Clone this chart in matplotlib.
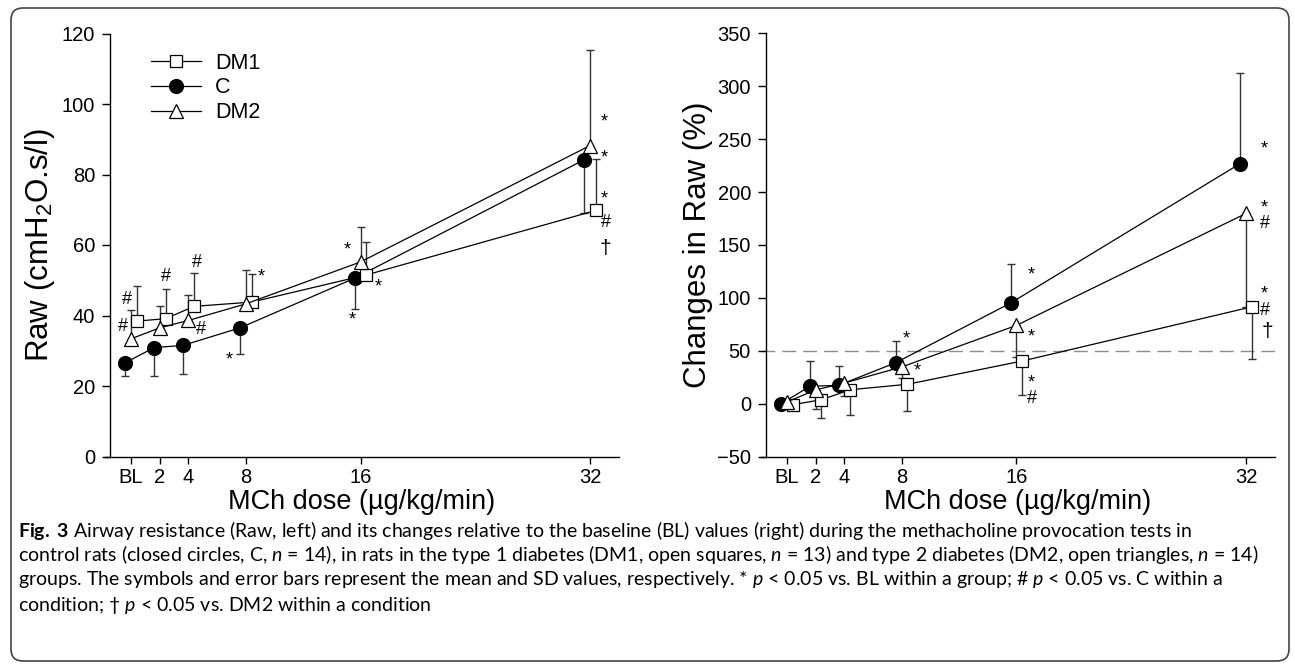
import matplotlib
matplotlib.use("Agg")
import matplotlib.pyplot as plt
from matplotlib.patches import FancyBboxPatch
from matplotlib.transforms import IdentityTransform

plt.rcParams['font.family'] = ['Liberation Sans', 'DejaVu Sans']
plt.rcParams['mathtext.fontset'] = 'custom'
plt.rcParams['mathtext.rm'] = 'Liberation Sans'
plt.rcParams['mathtext.it'] = 'Lato:italic'
plt.rcParams['mathtext.bf'] = 'Lato:bold'

# MCh doses (BL = 0)
doses = [0, 2, 4, 8, 16, 32]
dose_labels = ['BL', '2', '4', '8', '16', '32']

# Raw (cmH2O.s/l), mean and SD
raw_c = [26.6, 30.9, 31.5, 36.5, 50.6, 84.2]
raw_c_sd = [3.8, 8.0, 8.1, 7.3, 8.7, 15.2]
raw_dm1 = [38.4, 39.1, 42.6, 43.8, 51.5, 69.8]
raw_dm1_sd = [10.0, 8.4, 9.4, 7.9, 9.4, 14.7]
raw_dm2 = [33.4, 36.5, 38.6, 43.3, 55.2, 88.2]
raw_dm2_sd = [8.2, 6.3, 7.3, 9.7, 9.8, 27.1]

# changes in Raw (%), mean and SD
chg_c = [0, 16.4, 17.3, 38.8, 95.2, 227.0]
chg_c_sd = [0, 23.9, 18.3, 20.5, 36.8, 85.3]
chg_dm1 = [-1.0, 3.7, 13.1, 18.3, 40.3, 91.5]
chg_dm1_sd = [0, 17.3, 24.1, 25.7, 32.5, 49.5]
chg_dm2 = [1.6, 13.0, 19.5, 34.7, 74.0, 179.8]
chg_dm2_sd = [0, 17.7, 12.6, 10.0, 30.0, 88.0]

# significance marks: (symbol, dose, value)
raw_marks = [('#', -0.3, 44.5), ('#', -0.6, 36.9), ('#', 2.4, 51.0), ('#', 4.6, 55.1),
             ('#', 4.85, 36.0), ('*', 9.05, 52.0), ('*', 6.85, 28.6), ('*', 15.1, 59.9),
             ('*', 17.2, 49.4), ('*', 15.4, 40.0), ('*', 33.0, 96.0), ('*', 33.0, 86.0),
             ('*', 33.0, 74.3), ('#', 33.1, 66.4), ('\u2020', 33.1, 59.0)]
chg_marks = [('*', 8.3, 65.0), ('*', 9.1, 34.5), ('*', 17.0, 125.5), ('*', 17.0, 66.8),
             ('*', 17.05, 23.7), ('#', 17.05, 4.7), ('*', 33.3, 244.5), ('*', 33.3, 189.0),
             ('#', 33.35, 170.5), ('*', 33.3, 108.0), ('#', 33.35, 88.3), ('\u2020', 33.5, 67.8)]

caption = [
    r"$\mathbf{Fig.}$ $\mathbf{3}$ Airway resistance (Raw, left) and its changes relative to the baseline (BL) values (right) during the methacholine provocation tests in",
    r"control rats (closed circles, C, $n$ = 14), in rats in the type 1 diabetes (DM1, open squares, $n$ = 13) and type 2 diabetes (DM2, open triangles, $n$ = 14)",
    r"groups. The symbols and error bars represent the mean and SD values, respectively. * $p$ < 0.05 vs. BL within a group; # $p$ < 0.05 vs. C within a",
    r"condition; † $p$ < 0.05 vs. DM2 within a condition",
]

offsets = {'C': -0.4, 'DM2': 0.0, 'DM1': 0.4}
styles = {
    'DM1': dict(marker='s', markersize=9, markerfacecolor='white'),
    'C': dict(marker='o', markersize=10, markerfacecolor='black'),
    'DM2': dict(marker='^', markersize=10.5, markerfacecolor='white'),
}

fig = plt.figure(figsize=(12.95, 6.66), dpi=100)
W, H = 1295, 666
ax1 = fig.add_axes([105.3 / W, 1 - 456.5 / H, 513.4 / W, 423 / H])
ax2 = fig.add_axes([761.2 / W, 1 - 456.5 / H, 513.4 / W, 423 / H])


def draw(ax, series, marks, ylim, yticks, ylabel):
    handles = {}
    for name, mean, sd, side in series:
        xs = [d + offsets[name] for d in doses]
        if side == 'up':
            err = [[0] * len(sd), sd]
        else:
            err = [sd, [0] * len(sd)]
        ax.errorbar(xs, mean, yerr=err, fmt='none', ecolor='#333333', elinewidth=1,
                    capsize=3, capthick=1, zorder=2)
        h, = ax.plot(xs, mean, color='black', lw=0.9, markeredgecolor='black',
                     markeredgewidth=0.9, zorder=3, label=name, **styles[name])
        handles[name] = h
    for s, x, y in marks:
        dy = -3 if s == '*' else 0
        fs = 15 if s == '\u2020' else 13
        ax.annotate(s, (x, y), xytext=(0, dy), textcoords='offset points',
                    ha='center', va='center', fontsize=fs)
    ax.set_xlim(-1.8, 34)
    ax.set_ylim(*ylim)
    ax.set_xticks(doses)
    ax.set_xticklabels(dose_labels)
    ax.set_yticks(yticks)
    for sp in ['top', 'right']:
        ax.spines[sp].set_visible(False)
    ax.spines['left'].set_position(('data', -1.45))
    ax.spines['left'].set_linewidth(1)
    ax.spines['bottom'].set_linewidth(1)
    ax.tick_params(axis='both', direction='out', labelsize=14.5, width=1)
    ax.tick_params(axis='x', length=5, pad=3)
    ax.tick_params(axis='y', length=6, pad=5)
    ax.set_xlabel('MCh dose (\u00b5g/kg/min)', fontsize=19.5, labelpad=2)
    ax.set_ylabel(ylabel, fontsize=22.5, labelpad=3)
    return handles


h1 = draw(ax1, [('C', raw_c, raw_c_sd, 'down'), ('DM1', raw_dm1, raw_dm1_sd, 'up'),
                ('DM2', raw_dm2, raw_dm2_sd, 'up')],
          raw_marks, (0, 120), range(0, 121, 20), r'Raw (cmH$_2$O.s/l)')
draw(ax2, [('C', chg_c, chg_c_sd, 'up'), ('DM1', chg_dm1, chg_dm1_sd, 'down'),
           ('DM2', chg_dm2, chg_dm2_sd, 'down')],
     chg_marks, (-50, 350), range(-50, 351, 50), 'Changes in Raw (%)')
ax2.axhline(50, color='#8c8c8c', lw=1, ls=(0, (10, 5)), zorder=1)

ax1.legend([h1['DM1'], h1['C'], h1['DM2']], ['DM1', 'C', 'DM2'], loc='upper left',
           bbox_to_anchor=(0.089, 0.955), frameon=False, fontsize=15.5, numpoints=1,
           handlelength=2.33, handletextpad=0.65, labelspacing=0.18, borderpad=0,
           borderaxespad=0)

for i, line in enumerate(caption):
    fig.text(18 / W, 1 - (530 + 25 * i) / H, line, fontsize=14.0, family='Lato',
             ha='left', va='center')

border = FancyBboxPatch((11, 5), 1278, 653, boxstyle='round,pad=0,rounding_size=12',
                        transform=IdentityTransform(), fill=False, edgecolor='#444444',
                        lw=1.2)
fig.patches.append(border)

fig.savefig('out.png', dpi=100)
